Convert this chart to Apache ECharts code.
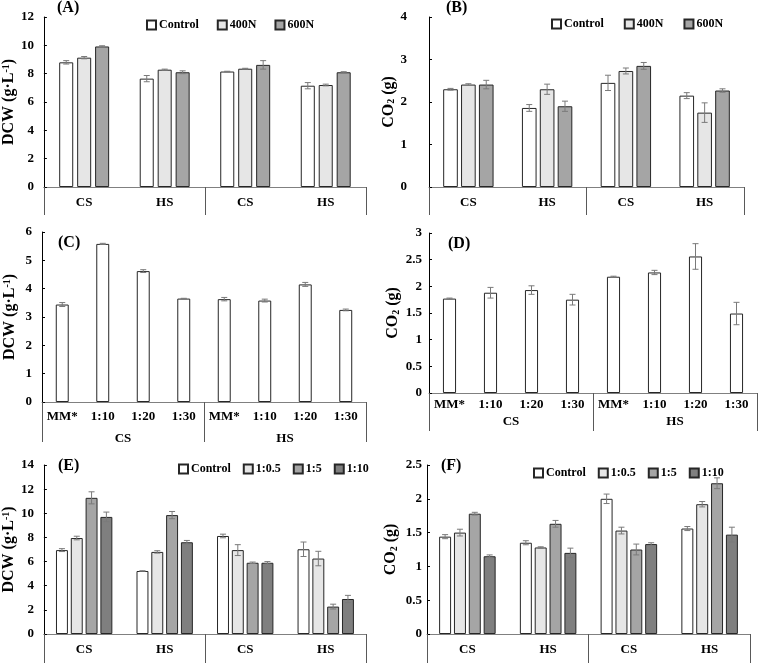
<!DOCTYPE html>
<html>
<head>
<meta charset="utf-8">
<script src="https://cdn.jsdelivr.net/npm/echarts@6/dist/echarts.min.js"></script>
</head>
<body>
<div id="chart"></div>
</body>
<style>
    body { margin: 0; background: #fff; }
    #chart { width: 758px; height: 664px; }
</style>
<script>
    // categories
    const groupsAB = ['CS', 'HS', 'CS', 'HS']
    const ratioLabels = ['MM*', '1:10', '1:20', '1:30', 'MM*', '1:10', '1:20', '1:30']
    const sources = ['CS', 'HS']

    // (A) DCW, nitrogen
    const aControl = [8.8, 7.65, 8.15, 7.15]
    const aControlErr = [0.12, 0.22, 0.02, 0.22]
    const a400N = [9.13, 8.28, 8.35, 7.2]
    const a400NErr = [0.08, 0.04, 0.03, 0.06]
    const a600N = [9.92, 8.1, 8.62, 8.1]
    const a600NErr = [0.05, 0.1, 0.3, 0.04]

    // (B) CO2, nitrogen
    const bControl = [2.3, 1.86, 2.45, 2.15]
    const bControlErr = [0.02, 0.08, 0.18, 0.07]
    const b400N = [2.41, 2.3, 2.73, 1.75]
    const b400NErr = [0.02, 0.12, 0.07, 0.23]
    const b600N = [2.41, 1.9, 2.85, 2.27]
    const b600NErr = [0.1, 0.12, 0.08, 0.04]

    // (C) DCW, ratios
    const cValues = [3.44, 5.58, 4.62, 3.65, 3.63, 3.58, 4.15, 3.25]
    const cErr = [0.07, 0.02, 0.05, 0.01, 0.06, 0.05, 0.07, 0.03]

    // (D) CO2, ratios
    const dValues = [1.77, 1.88, 1.93, 1.75, 2.18, 2.26, 2.56, 1.49]
    const dErr = [0.01, 0.1, 0.08, 0.1, 0.01, 0.04, 0.24, 0.21]

    // (E) DCW, supplement
    const eControl = [6.95, 5.22, 8.12, 7.02]
    const eControlErr = [0.12, 0.02, 0.15, 0.6]
    const e05 = [7.95, 6.8, 6.95, 6.25]
    const e05Err = [0.15, 0.1, 0.45, 0.6]
    const e5 = [11.28, 9.85, 5.9, 2.27]
    const e5Err = [0.5, 0.3, 0.06, 0.2]
    const e10 = [9.7, 7.6, 5.9, 2.9]
    const e10Err = [0.4, 0.15, 0.1, 0.3]

    // (F) CO2, supplement
    const fControl = [1.44, 1.35, 2.0, 1.56]
    const fControlErr = [0.03, 0.03, 0.07, 0.03]
    const f05 = [1.5, 1.28, 1.53, 1.92]
    const f05Err = [0.05, 0.01, 0.05, 0.04]
    const f5 = [1.78, 1.63, 1.25, 2.23]
    const f5Err = [0.02, 0.05, 0.08, 0.08]
    const f10 = [1.15, 1.2, 1.33, 1.47]
    const f10Err = [0.02, 0.07, 0.02, 0.11]

    const FONT = 'Liberation Serif'
    const fills = {
        'Control': '#ffffff', '400N': '#e6e6e6', '600N': '#a5a5a5',
        '1:0.5': '#e6e6e6', '1:5': '#a5a5a5', '1:10': '#7f7f7f', 'single': '#ffffff'
    }
    const dcwName = '{a|DCW (g·L}{s|-1}{a|)}'
    const co2Name = '{a|CO}{b|2}{a| (g)}'
    const nameRich = {
        a: { fontFamily: FONT, fontWeight: 'bold', fontSize: 16, color: '#000' },
        s: { fontFamily: FONT, fontWeight: 'bold', fontSize: 10, color: '#000', verticalAlign: 'top' },
        b: { fontFamily: FONT, fontWeight: 'bold', fontSize: 10, color: '#000', verticalAlign: 'bottom' }
    }
    const txt = { fontFamily: FONT, fontWeight: 'bold', fontSize: 13, color: '#000' }

    let grids = [], xAxes = [], yAxes = [], series = [], legends = [], titles = []

    function errBar(n, k, c, g) {
        return function (params, api) {
            const x = api.value(0), y = api.value(1), e = api.value(2)
            const band = api.size([1, 0])[0]
            const w = band * (1 - c) / (n + (n - 1) * g)
            const total = n * w + (n - 1) * g * w
            const cx = api.coord([x, y])[0] - total / 2 + k * (w + g * w) + w / 2
            const top = api.coord([x, y + e])[1]
            const bot = api.coord([x, y - e])[1]
            const st = { stroke: '#7a7a7a', lineWidth: 1 }
            return {
                type: 'group', children: [
                    { type: 'line', shape: { x1: cx, y1: top, x2: cx, y2: bot }, style: st },
                    { type: 'line', shape: { x1: cx - 3, y1: top, x2: cx + 3, y2: top }, style: st },
                    { type: 'line', shape: { x1: cx - 3, y1: bot, x2: cx + 3, y2: bot }, style: st }
                ]
            }
        }
    }

    function addPanel(p) {
        const i = grids.length
        grids.push({ left: p.left, right: p.right, top: p.top, bottom: p.bottom })
        xAxes.push({
            gridIndex: i, type: 'category', data: p.cats,
            axisLine: { lineStyle: { color: '#808080', width: 1 } },
            axisTick: { show: false },
            axisLabel: Object.assign({ margin: p.catMargin, interval: 0 }, txt)
        })
        xAxes.push({
            gridIndex: i, type: 'category', position: 'bottom', offset: 0, data: p.groups,
            axisLine: { show: false },
            axisTick: { show: true, length: p.tickLen, lineStyle: { color: '#595959' } },
            axisLabel: Object.assign({ margin: p.groupMargin, interval: 0 }, txt)
        })
        yAxes.push({
            gridIndex: i, type: 'value', min: 0, max: p.max, interval: p.step,
            name: p.yName, nameLocation: 'middle', nameGap: p.nameGap,
            nameTextStyle: { rich: nameRich },
            axisLine: { show: true, lineStyle: { color: '#000' } },
            axisTick: { show: true, inside: true, length: 3, lineStyle: { color: '#000' } },
            splitLine: { show: false },
            axisLabel: Object.assign({ margin: p.labelMargin }, txt)
        })
        const n = p.series.length
        const c = parseFloat(p.catGap) / 100
        const g = parseFloat(p.barGap) / 100
        p.series.forEach((s, k) => {
            series.push({
                type: 'bar', name: s.name, xAxisIndex: 2 * i, yAxisIndex: i, data: s.values,
                barCategoryGap: p.catGap, barGap: p.barGap, silent: true,
                itemStyle: { color: fills[s.name], borderColor: '#262626', borderWidth: 1 }
            })
            series.push({
                type: 'custom', name: 'err', xAxisIndex: 2 * i, yAxisIndex: i, z: 5, silent: true,
                data: s.values.map((v, j) => [j, v, s.errs[j]]),
                renderItem: errBar(n, k, c, g)
            })
        })
        titles.push({
            text: p.tag, left: p.tagLeft, top: p.tagTop, padding: 0,
            textStyle: { fontFamily: FONT, fontWeight: 'bold', fontSize: 16, color: '#000' }
        })
        if (p.legendLeft !== undefined) {
            legends.push({
                data: p.series.map(s => s.name), left: p.legendLeft, top: p.legendTop, padding: 0,
                icon: 'rect', itemWidth: 9, itemHeight: 9, itemGap: p.legendGap, selectedMode: false,
                textStyle: { fontFamily: FONT, fontWeight: 'bold', fontSize: 12, color: '#000', padding: [0, 0, 0, -2] }
            })
        }
    }

    addPanel({
        tag: '(A)', tagLeft: 57, tagTop: 0, left: 42, right: 392, top: 17, bottom: 477,
        max: 12, step: 2, yName: dcwName, nameGap: 24, labelMargin: 10,
        cats: groupsAB, groups: ['', ''], tickLen: 28, catMargin: 9, groupMargin: 30,
        catGap: '38%', barGap: '28%', legendLeft: 146, legendTop: 19, legendGap: 18,
        series: [
            { name: 'Control', values: aControl, errs: aControlErr },
            { name: '400N', values: a400N, errs: a400NErr },
            { name: '600N', values: a600N, errs: a600NErr }
        ]
    })
    addPanel({
        tag: '(B)', tagLeft: 446, tagTop: 0, left: 429, right: 14, top: 17, bottom: 477,
        max: 4, step: 1, yName: co2Name, nameGap: 28, labelMargin: 22,
        cats: groupsAB, groups: ['', ''], tickLen: 28, catMargin: 9, groupMargin: 30,
        catGap: '36%', barGap: '22%', legendLeft: 551, legendTop: 18, legendGap: 20,
        series: [
            { name: 'Control', values: bControl, errs: bControlErr },
            { name: '400N', values: b400N, errs: b400NErr },
            { name: '600N', values: b600N, errs: b600NErr }
        ]
    })
    addPanel({
        tag: '(C)', tagLeft: 58, tagTop: 235, left: 42, right: 392, top: 232, bottom: 262,
        max: 6, step: 1, yName: dcwName, nameGap: 24, labelMargin: 10,
        cats: ratioLabels, groups: sources, tickLen: 40, catMargin: 8, groupMargin: 30,
        catGap: '68%', barGap: '0%',
        series: [{ name: 'single', values: cValues, errs: cErr }]
    })
    addPanel({
        tag: '(D)', tagLeft: 448, tagTop: 236, left: 429, right: 1, top: 233, bottom: 271,
        max: 3, step: 0.5, yName: co2Name, nameGap: 28, labelMargin: 7,
        cats: ratioLabels, groups: sources, tickLen: 38, catMargin: 5, groupMargin: 22,
        catGap: '68%', barGap: '0%',
        series: [{ name: 'single', values: dValues, errs: dErr }]
    })
    addPanel({
        tag: '(E)', tagLeft: 58, tagTop: 458, left: 42, right: 392, top: 465, bottom: 29,
        max: 14, step: 2, yName: dcwName, nameGap: 24, labelMargin: 10,
        cats: groupsAB, groups: ['', ''], tickLen: 29, catMargin: 9, groupMargin: 30,
        catGap: '30%', barGap: '24%', legendLeft: 178, legendTop: 463, legendGap: 12,
        series: [
            { name: 'Control', values: eControl, errs: eControlErr },
            { name: '1:0.5', values: e05, errs: e05Err },
            { name: '1:5', values: e5, errs: e5Err },
            { name: '1:10', values: e10, errs: e10Err }
        ]
    })
    addPanel({
        tag: '(F)', tagLeft: 441, tagTop: 458, left: 427, right: 8, top: 465, bottom: 29,
        max: 2.5, step: 0.5, yName: co2Name, nameGap: 28, labelMargin: 5,
        cats: groupsAB, groups: ['', ''], tickLen: 29, catMargin: 9, groupMargin: 30,
        catGap: '30%', barGap: '24%', legendLeft: 533, legendTop: 467, legendGap: 12,
        series: [
            { name: 'Control', values: fControl, errs: fControlErr },
            { name: '1:0.5', values: f05, errs: f05Err },
            { name: '1:5', values: f5, errs: f5Err },
            { name: '1:10', values: f10, errs: f10Err }
        ]
    })

    const chart = echarts.init(document.getElementById('chart'))
    chart.setOption({
        animation: false,
        backgroundColor: '#fff',
        title: titles,
        legend: legends,
        grid: grids,
        xAxis: xAxes,
        yAxis: yAxes,
        series
    })
</script>
</html>
